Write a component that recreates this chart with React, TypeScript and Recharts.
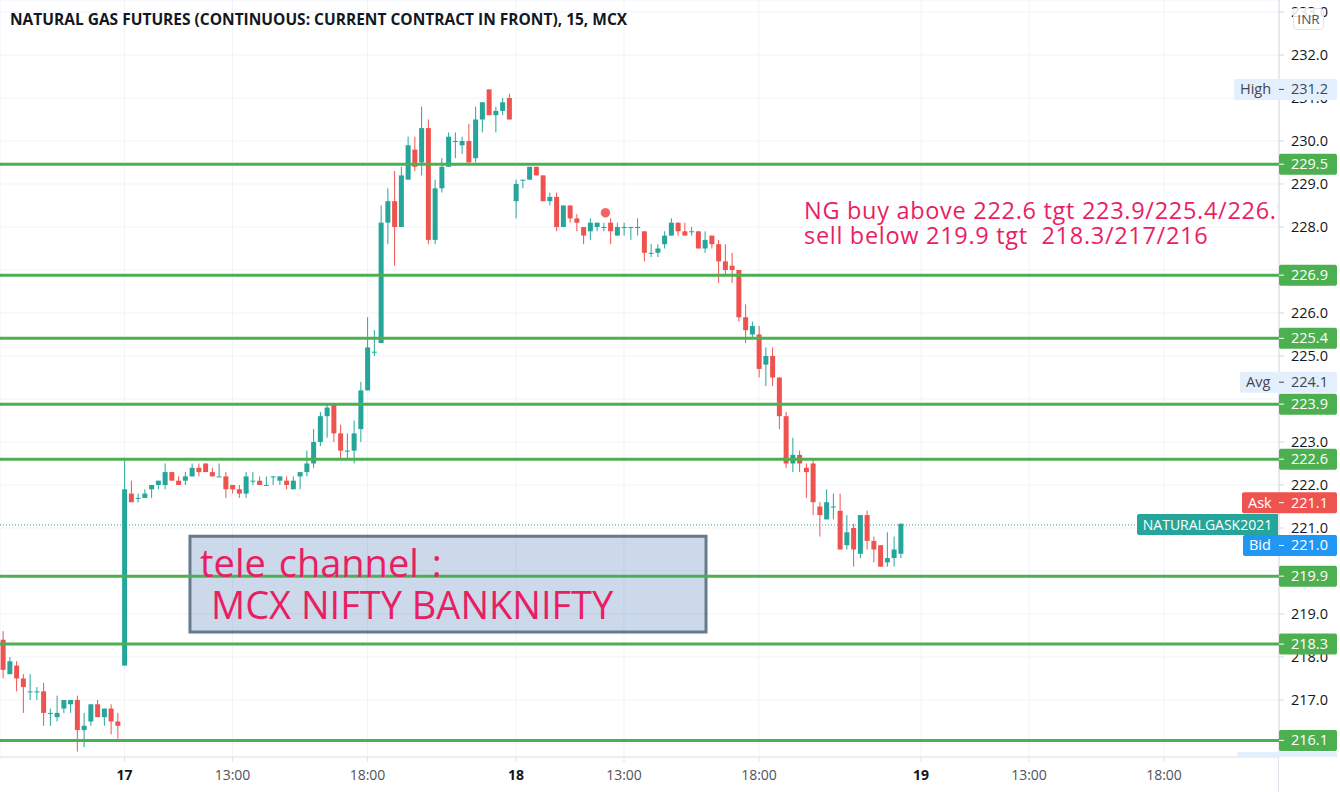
import React from "react";
import { ComposedChart, Bar, XAxis, YAxis, CartesianGrid, ReferenceLine, ReferenceArea, ReferenceDot } from "recharts";

const FIRST_INDEX = -18;
const opens = [218.4,217.6,217.8,217.5,217.2,217.2,217.2,216.7,216.6,216.8,216.9,217.0,216.3,216.5,216.9,216.6,216.8,216.5,
217.8,221.8,221.7,221.7,221.9,222.0,222.0,222.3,222.1,222.1,222.2,222.4,222.5,222.3,222.2,222.2,222.0,221.9,221.8,222.1,222.1,222.0,222.2,222.1,222.1,221.9,222.2,222.3,222.5,223.0,223.6,223.9,223.2,222.8,222.8,223.3,224.2,225.1,225.3,228.1,228.6,228.0,229.1,229.8,229.5,230.3,227.7,228.9,229.4,230.0,229.9,230.0,229.6,230.5,231.2,230.6,230.7,231.0,
228.6,229.1,229.1,229.4,229.2,228.6,228.7,228.0,228.5,228.2,228.0,227.9,228.0,228.0,228.1,227.8,228.0,228.0,228.0,227.9,227.4,227.4,227.6,227.8,228.1,227.9,227.9,227.9,227.5,227.8,227.6,227.2,227.1,227.0,225.9,225.5,225.5,224.8,225.0,224.5,223.6,222.5,222.7,222.4,222.5,221.5,221.2,221.5,221.4,220.6,221.0,220.4,221.3,220.7,220.6,220.2,220.3,220.4];
const highs = [218.6,218.0,217.9,217.6,217.6,217.3,217.4,216.8,217.1,217.0,217.0,217.1,216.7,216.9,217.0,216.8,216.9,216.7,
222.6,222.1,221.8,221.9,222.0,222.1,222.5,222.3,222.2,222.3,222.5,222.5,222.5,222.4,222.5,222.3,222.0,222.0,222.3,222.3,222.2,222.2,222.2,222.2,222.2,222.2,222.3,222.8,223.3,223.7,223.9,223.9,223.4,223.2,223.5,224.4,225.9,225.6,228.5,228.9,229.3,229.4,230.1,230.1,230.8,230.5,229.1,229.6,230.2,230.2,230.1,230.4,230.8,230.9,231.2,230.8,231.0,231.1,
229.1,229.1,229.4,229.4,229.2,228.8,228.8,228.5,228.5,228.3,228.0,228.2,228.1,228.1,228.2,228.1,228.1,228.0,228.2,227.9,227.6,227.6,227.9,228.2,228.1,228.1,228.0,227.9,227.9,227.8,227.7,227.6,227.4,227.0,226.2,225.8,225.7,225.2,225.2,224.5,223.7,223.1,222.8,222.5,222.6,221.6,221.9,221.8,221.8,221.3,221.1,221.3,221.4,220.8,220.6,220.9,220.8,221.1];
const lows = [217.5,217.6,217.2,216.7,217.0,217.0,216.4,216.4,216.5,216.7,216.7,215.8,215.9,216.4,216.6,216.4,216.2,216.1,
217.8,221.6,221.6,221.7,221.7,221.9,221.9,222.1,222.0,222.0,222.2,222.2,222.3,222.2,222.2,221.7,221.8,221.7,221.7,222.0,222.0,222.0,222.0,222.0,221.9,221.9,221.9,222.2,222.4,222.9,223.1,223.0,222.6,222.6,222.5,223.0,224.2,225.0,225.3,227.6,227.1,228.0,229.1,229.3,229.2,227.6,227.6,228.8,229.4,229.6,229.7,229.5,229.5,230.2,230.6,230.2,230.6,230.5,
228.2,228.9,229.1,229.2,228.6,228.5,227.9,228.0,228.1,227.9,227.6,227.7,227.9,227.9,227.6,227.8,227.8,227.7,227.8,227.2,227.3,227.3,227.5,227.8,227.8,227.8,227.8,227.5,227.4,227.5,226.7,226.9,226.7,225.8,225.3,225.4,224.5,224.3,224.3,223.3,222.4,222.3,222.3,221.7,221.3,220.8,221.2,221.2,220.5,220.5,220.1,220.3,220.5,220.2,220.1,220.1,220.1,220.3];
const closes = [217.7,217.9,217.5,217.3,217.2,217.2,216.7,216.7,216.7,217.0,217.0,216.3,216.4,216.9,216.6,216.8,216.5,216.4,
221.9,221.6,221.7,221.8,222.0,222.1,222.3,222.1,222.0,222.2,222.4,222.3,222.3,222.2,222.2,221.9,221.9,221.8,222.2,222.1,222.0,222.0,222.2,222.2,222.0,222.1,222.3,222.5,223.0,223.6,223.8,223.2,222.8,222.8,223.2,224.2,225.2,225.1,228.1,228.6,228.0,229.2,229.9,229.4,230.3,227.7,228.9,229.4,230.1,230.0,230.0,229.5,230.5,230.9,230.6,230.7,230.9,230.5,
229.0,229.1,229.4,229.2,228.6,228.7,228.0,228.5,228.2,228.1,227.8,228.1,228.1,228.0,227.9,228.0,228.0,228.0,228.0,227.4,227.4,227.5,227.8,228.1,227.9,227.8,227.9,227.5,227.7,227.6,227.2,227.0,227.0,225.9,225.6,225.7,224.7,225.0,224.5,223.6,222.5,222.7,222.5,222.3,221.6,221.3,221.6,221.5,220.5,220.9,220.5,221.3,220.7,220.5,220.1,220.3,220.5,221.1];

const candles = opens.map((o, n) => ({ i: FIRST_INDEX + n, o, h: highs[n], l: lows[n], c: closes[n], range: [lows[n], highs[n]] }));

const timeTicks = [0, 16, 36, 58, 74, 94, 118, 134, 154];
const timeLabels = ["17", "13:00", "18:00", "18", "13:00", "18:00", "19", "13:00", "18:00"];
const priceTicks = [216,217,218,219,220,221,222,223,224,225,226,227,228,229,230,231,232,233];
const levels = [229.46, 226.88, 225.41, 223.88, 222.6, 219.88, 218.3, 216.06];
const levelTexts = ["229.5", "226.9", "225.4", "223.9", "222.6", "219.9", "218.3", "216.1"];
const lastPrice = 221.07;
const X_DOMAIN = [-18.444, 171.037];
const Y_DOMAIN = [215.674, 233.279];
const UP = "#26a69a";
const DOWN = "#ef5350";
const LEVEL = "#4caf50";
const FONT = "'Open Sans', sans-serif";

const Candle = (p: any) => {
  const { x, width, payload } = p;
  const top = Math.min(p.y, p.y + p.height);
  const k = Math.abs(p.height) / (payload.h - payload.l);
  const color = payload.c >= payload.o ? UP : DOWN;
  const cx = x + width / 2;
  const bt = top + (payload.h - Math.max(payload.o, payload.c)) * k;
  const bh = Math.max(1, Math.abs(payload.o - payload.c) * k);
  return (
    <g>
      <line x1={cx} x2={cx} y1={top} y2={top + Math.abs(p.height)} stroke={color} strokeWidth={1} />
      <rect x={x} y={bt} width={width} height={bh} fill={color} />
    </g>
  );
};

const XTick = (p: any) => {
  const n = timeTicks.indexOf(p.payload.value);
  const bold = n % 3 === 0;
  return (
    <text x={p.x} y={p.y + 16} textAnchor="middle" fontFamily={FONT} fontSize={14} fontWeight={bold ? 700 : 400} fill={bold ? "#131722" : "#50535e"}>
      {timeLabels[n]}
    </text>
  );
};

// Axis tag: coloured box with optional caption + value
const Tag = ({ viewBox, value, caption, fill, color, boxLeft = 0, shift = 0 }: any) => {
  const right = viewBox.x + viewBox.width;
  const cy = viewBox.y + shift;
  const left = right - boxLeft;
  return (
    <g fontFamily={FONT} fontSize={14.5}>
      <rect x={left} y={cy - 10.5} width={1337 - left} height={21} rx={2} fill={fill} />
      <line x1={right} x2={right + 5} y1={cy} y2={cy} stroke={color} />
      {caption ? <text x={left + 6} y={cy + 5} fill={color}>{caption}</text> : null}
      <text x={1291} y={cy + 5} fill={color}>{value}</text>
    </g>
  );
};

export default function App() {
  return (
    <div style={{ position: "absolute", left: 0, top: 0, width: 1340, height: 792, background: "#fff", overflow: "hidden" }}>
      <ComposedChart width={1340} height={792} data={candles} margin={{ top: 0, right: 0, bottom: 0, left: 0 }}>
        <CartesianGrid stroke="#f0f3fa" strokeWidth={1} />
        <XAxis
          dataKey="i"
          type="number"
          domain={X_DOMAIN}
          allowDataOverflow
          ticks={timeTicks}
          interval={0}
          height={35}
          tick={<XTick />}
          tickSize={5}
          stroke="#e0e3eb"
        />
        <YAxis
          orientation="right"
          type="number"
          domain={Y_DOMAIN}
          allowDataOverflow
          ticks={priceTicks}
          interval={0}
          width={61}
          tickSize={5}
          tickMargin={7}
          stroke="#d6d9e2"
          tick={{ fontFamily: FONT, fontSize: 14.5, fill: "#131722" }}
          tickFormatter={(v: number) => v.toFixed(1)}
        />
        <Bar dataKey="range" barSize={5} shape={<Candle />} isAnimationActive={false} />
      </ComposedChart>

      {/* Second layer on the same scales, so lines and tags sit over candles and axis ticks */}
      <div style={{ position: "absolute", left: 0, top: 0 }}>
        <ComposedChart width={1340} height={792} data={candles} margin={{ top: 0, right: 61, bottom: 35, left: 0 }}>
          <XAxis dataKey="i" type="number" domain={X_DOMAIN} allowDataOverflow hide />
          <YAxis type="number" domain={Y_DOMAIN} allowDataOverflow hide />
          <ReferenceLine
            segment={[{ x: X_DOMAIN[0], y: lastPrice }, { x: 150, y: lastPrice }]}
            stroke={UP}
            strokeDasharray="1 2"
            strokeWidth={1}
          />
          {levels.map((v, n) => (
            <ReferenceLine
              key={v}
              y={v}
              stroke={LEVEL}
              strokeWidth={3}
              label={(lp: any) => <Tag viewBox={lp.viewBox} value={levelTexts[n]} fill={LEVEL} color="#fff" />}
            />
          ))}
          <ReferenceLine y={231.2} stroke="none" label={(lp: any) => <Tag viewBox={lp.viewBox} value="231.2" caption="High" fill="#e3effd" color="#434651" boxLeft={45} />} />
          <ReferenceLine y={224.1} stroke="none" label={(lp: any) => <Tag viewBox={lp.viewBox} value="224.1" caption="Avg" fill="#e3effd" color="#434651" boxLeft={39} shift={-12.5} />} />
          <ReferenceLine y={221.1} stroke="none" label={(lp: any) => <Tag viewBox={lp.viewBox} value="221.1" caption="Ask" fill={DOWN} color="#fff" boxLeft={37} shift={-21} />} />
          <ReferenceLine y={221.0} stroke="none" label={(lp: any) => <Tag viewBox={lp.viewBox} value="221.0" caption="Bid" fill="#2196f3" color="#fff" boxLeft={36} shift={17.5} />} />
          <ReferenceArea x1={9.7} x2={86.15} y1={220.81} y2={218.58} fill="rgb(82,128,185)" fillOpacity={0.3} stroke="#667a8c" strokeWidth={3} ifOverflow="visible" />
          <ReferenceDot x={71.25} y={228.33} r={4.5} fill={DOWN} fillOpacity={0.9} stroke={DOWN} strokeOpacity={0.4} strokeWidth={1} />
        </ComposedChart>
      </div>

      {/* Right-axis name tag, title, annotations */}
      <div style={{ position: "absolute", left: 1137, top: 514, width: 141, height: 21, background: UP, borderRadius: "2px 0 0 2px", color: "#fff", fontFamily: FONT, fontSize: 14, lineHeight: "21px", textAlign: "center", whiteSpace: "nowrap" }}>NATURALGASK2021</div>
      <div style={{ position: "absolute", left: 1278, top: 757, width: 1, height: 35, background: "#e0e3eb" }} />
      <div style={{ position: "absolute", left: 1293, top: 8, width: 29, height: 20, border: "1px solid #e0e3eb", borderRadius: 4, background: "rgba(255,255,255,0.85)", color: "#50535e", fontFamily: FONT, fontSize: 13.5, lineHeight: "20px", textAlign: "center" }}>INR</div>
      <svg width={100} height={5} style={{ position: "absolute", left: 1237, top: 752 }}>
        <rect x={0} y={0} width={100} height={21} rx={2} fill="#e3effd" />
        <text x={6} y={15} fontFamily={FONT} fontSize={14.5} fill="#434651">Low</text>
      </svg>
      <svg width={1278} height={757} style={{ position: "absolute", left: 0, top: 0, pointerEvents: "none" }} fontFamily={FONT}>
        <text x={10} y={25} fontSize={15.5} fontWeight={700} fill="#131722">NATURAL GAS FUTURES (CONTINUOUS: CURRENT CONTRACT IN FRONT), 15, MCX</text>
        <g fill="#e91e63" fontSize={23.5} letterSpacing={0.7}>
          <text x={804} y={219}>NG buy above 222.6 tgt 223.9/225.4/226.9</text>
          <text x={804} y={244} xmlSpace="preserve">sell below 219.9 tgt  218.3/217/216</text>
        </g>
        <g fill="#e91e63" fontSize={38}>
          <text x={200} y={577} wordSpacing={3}>tele channel :</text>
          <text x={211} y={619}>MCX NIFTY BANKNIFTY</text>
        </g>
      </svg>
    </div>
  );
}
